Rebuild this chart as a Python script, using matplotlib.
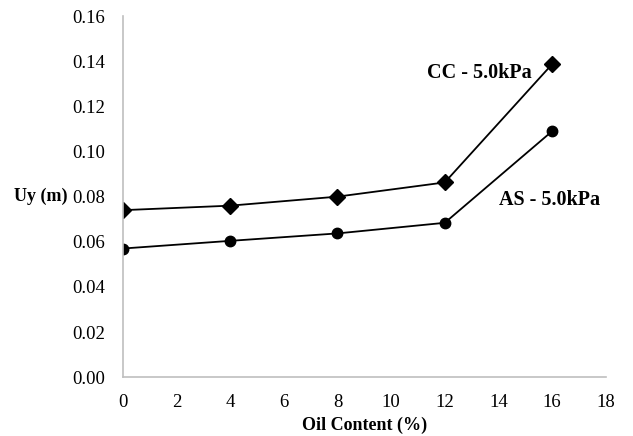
import numpy as np
from matplotlib import pyplot as plt

plt.rcParams['font.family'] = ['Liberation Serif', 'DejaVu Serif']

# data
oil = [0, 4, 8, 12, 16]
uy_cc = [0.074, 0.076, 0.080, 0.0863, 0.1387]
uy_as = [0.057, 0.0604, 0.0637, 0.0684, 0.109]

fig = plt.figure(figsize=(6.33, 4.36), dpi=100)
ax = fig.add_axes([0.194, 0.135, 0.763, 0.828])

ax.plot(oil, uy_cc, color='black', lw=1.3, marker='D', ms=8)
ax.plot(oil, uy_as, color='black', lw=1.3, marker='o', ms=7.5)

ax.text(13.3, 0.1347, 'CC - 5.0kPa', fontsize=14.5, fontweight='bold', ha='center', va='center')
ax.text(15.9, 0.0785, 'AS - 5.0kPa', fontsize=14.5, fontweight='bold', ha='center', va='center')

ax.set_xlim(0, 18)
ax.set_ylim(0, 0.16)
ax.set_xticks(np.arange(0, 19, 2))
ax.set_yticks(np.arange(0, 0.161, 0.02))
ax.set_yticklabels(['{:.2f}'.format(v) for v in np.arange(0, 0.161, 0.02)])
ax.tick_params(length=0, labelsize=13.5, pad=12)
ax.tick_params(axis='y', pad=13)

for s in ['top', 'right']:
    ax.spines[s].set_visible(False)
for s in ['left', 'bottom']:
    ax.spines[s].set_color('#BFBFBF')
    ax.spines[s].set_linewidth(1.2)

ax.set_xlabel('Oil Content (%)', fontsize=13, fontweight='bold', labelpad=4)
ax.set_ylabel('Uy (m)', fontsize=13, fontweight='bold', rotation=0, ha='right', va='center')
ax.yaxis.set_label_coords(-0.115, 0.5)

fig.savefig('out.png', dpi=100)
plt.close()
